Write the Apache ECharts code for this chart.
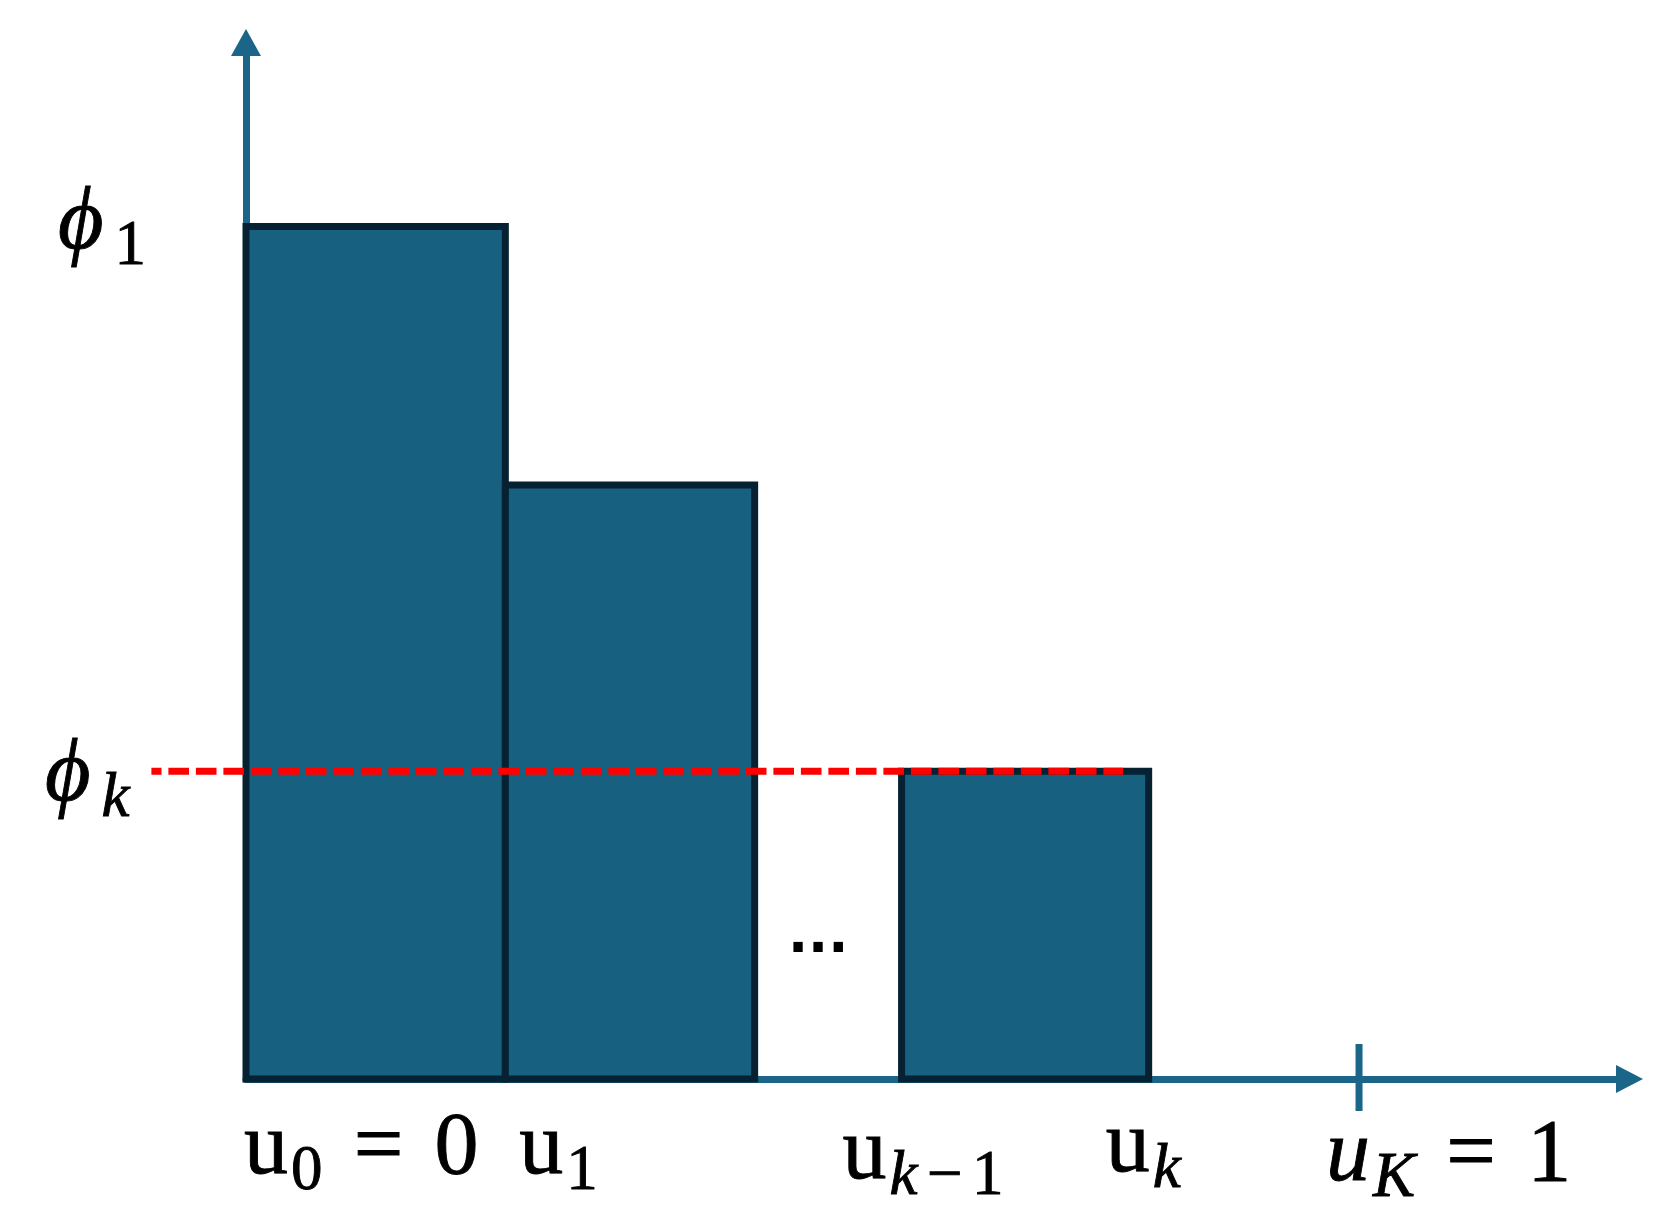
<!DOCTYPE html>
<html><head><meta charset="utf-8">
<script src="https://cdn.jsdelivr.net/npm/echarts@6/dist/echarts.min.js"></script>
<style>html,body{margin:0;padding:0;background:#fff}#c{width:1672px;height:1223px}</style>
</head><body><div id="c"></div>
<script>
// ---------------- data ----------------
const binStarts  = [0, 0.233, 0.589];
const binEnds    = [0.233, 0.457, 0.811];
const binHeights = [1.0, 0.697, 0.361];
const thresholdX = [-0.085, 0.788];
const thresholdY = 0.361;
const xTickValues = [0, 0.233, 0.589, 0.811, 1];
const xTickLabels = ['u_{0} = 0', 'u_{1}', 'u_{*k* − 1}', 'u_{*k*}', '*u*_{*K*} = 1'];
const yTickValues = [1.0, 0.361];
const yTickLabels = ['*ϕ*_{1}', '*ϕ*_{*k*}'];
const markedTicks = [1];
const noteTexts = ['...'];
const noteU = [0.514];
const noteV = [0.149];
const xMax = 1.243, yMax = 1.216;

// ---------------- layout / style ----------------
const AXIS = '#1a6588', FILL = '#176080', EDGE = '#062232';
const FAM = '"Liberation Serif", "DejaVu Serif", serif';
const MAIN = 88, SUB = 63, SUBDROP = 16, SPACE = 0.355, SUBSPACE = 0.15, MID = 0.26;
const xLabelShift = [[-2, 94], [14, 94], [-59, 99], [-43, 92], [-33, 101]];
const yLabelShift = [[-188, 21.5], [-201, 28.5]];

const mctx = document.createElement('canvas').getContext('2d');
function fontOf(size, italic) { return (italic ? 'italic ' : '') + size + 'px ' + FAM; }
function parse(s) {
  const out = []; let sub = false, it = false, buf = '';
  const flush = () => { if (buf) out.push({ t: buf, sub, it }); buf = ''; };
  for (let i = 0; i < s.length; i++) {
    const c = s[i];
    if (c === '*') { flush(); it = !it; }
    else if (c === '_' && s[i + 1] === '{') { flush(); sub = true; i++; }
    else if (c === '}' && sub) { flush(); sub = false; }
    else buf += c;
  }
  flush(); return out;
}
function layoutText(markup, x0, base) {
  const els = []; let x = x0; let prevSub = false; let prevText = '';
  parse(markup).forEach(p => {
    const size = p.sub ? SUB : MAIN;
    const f = fontOf(size, p.it);
    if (p.sub && !prevSub) x += prevText.endsWith('ϕ') ? 11 : 3;
    prevSub = p.sub;
    p.t.split(/( )/).forEach(run => {
      if (!run) return;
      if (run === ' ') { x += (p.sub ? SUBSPACE : SPACE) * size; return; }
      mctx.font = f;
      const w = mctx.measureText(run).width;
      const b = base + (p.sub ? SUBDROP : 0);
      els.push({ type: 'text', style: { text: run, x: x, y: b - MID * size, font: f, fill: '#000', stroke: '#000', lineWidth: 0.9, align: 'left', verticalAlign: 'middle' } });
      x += w;
      prevText = run;
    });
  });
  return els;
}

const chart = echarts.init(document.getElementById('c'), null, { renderer: 'canvas' });
chart.setOption({
  animation: false,
  backgroundColor: '#fff',
  grid: { left: 246, right: 42.5, top: 42.5, bottom: 144 },
  xAxis: {
    type: 'value', min: 0, max: xMax,
    axisLine: { show: true, lineStyle: { color: AXIS, width: 7 }, symbol: ['none', 'triangle'], symbolSize: [28, 27] },
    axisTick: { show: false }, axisLabel: { show: false }, splitLine: { show: false }
  },
  yAxis: {
    type: 'value', min: 0, max: yMax,
    axisLine: { show: true, lineStyle: { color: AXIS, width: 7 }, symbol: ['none', 'triangle'], symbolSize: [30, 27] },
    axisTick: { show: false }, axisLabel: { show: false }, splitLine: { show: false }
  },
  series: [
    {
      type: 'custom', name: 'bins', clip: false, z: 2,
      data: binStarts.map((s, i) => [s, binEnds[i], binHeights[i]]),
      encode: { x: [0, 1], y: 2 },
      renderItem: (params, api) => {
        const a = api.coord([api.value(0), api.value(2)]);
        const b = api.coord([api.value(1), 0]);
        return { type: 'rect', shape: { x: a[0], y: a[1], width: b[0] - a[0], height: b[1] - a[1] },
          style: { fill: FILL, stroke: EDGE, lineWidth: 7 } };
      }
    },
    {
      type: 'custom', name: 'tick', clip: false, z: 2,
      data: markedTicks.map(v => [v, 0]),
      renderItem: (params, api) => {
        const p = api.coord([api.value(0), api.value(1)]);
        return { type: 'line', shape: { x1: p[0], y1: p[1] - 35, x2: p[0], y2: p[1] + 32 }, style: { stroke: AXIS, lineWidth: 7 } };
      }
    },
    {
      type: 'custom', name: 'threshold', clip: false, z: 5, silent: true,
      data: [[thresholdX[0], thresholdX[1], thresholdY]],
      encode: { x: [0, 1], y: 2 },
      renderItem: (params, api) => {
        const a = api.coord([api.value(0), api.value(2)]);
        const b = api.coord([api.value(1), api.value(2)]);
        return { type: 'line', shape: { x1: a[0], y1: a[1], x2: b[0], y2: b[1] },
          style: { stroke: '#ff0000', lineWidth: 7, lineDash: [20.6, 6.9], lineDashOffset: 10.5, lineCap: 'butt' } };
      }
    },
    {
      type: 'custom', name: 'xlabels', clip: false, z: 6,
      data: xTickValues.map((v, i) => [v, 0, i]),
      renderItem: (params, api) => {
        const i = api.value(2); const p = api.coord([api.value(0), api.value(1)]);
        return { type: 'group', children: layoutText(xTickLabels[i], p[0] + xLabelShift[i][0], p[1] + xLabelShift[i][1]) };
      }
    },
    {
      type: 'custom', name: 'ylabels', clip: false, z: 6,
      data: yTickValues.map((v, i) => [0, v, i]),
      renderItem: (params, api) => {
        const i = api.value(2); const p = api.coord([api.value(0), api.value(1)]);
        return { type: 'group', children: layoutText(yTickLabels[i], p[0] + yLabelShift[i][0], p[1] + yLabelShift[i][1]) };
      }
    },
    {
      type: 'custom', name: 'notes', clip: false, z: 6,
      data: noteTexts.map((t, i) => [noteU[i], noteV[i], i]),
      renderItem: (params, api) => {
        const i = api.value(2); const p = api.coord([api.value(0), api.value(1)]);
        return { type: 'text', style: { text: noteTexts[i], x: p[0], y: p[1] - 0.26 * 53, font: 'bold 53px "DejaVu Sans"', fill: '#000', align: 'center', verticalAlign: 'middle' } };
      }
    }
  ]
});
</script></body></html>
